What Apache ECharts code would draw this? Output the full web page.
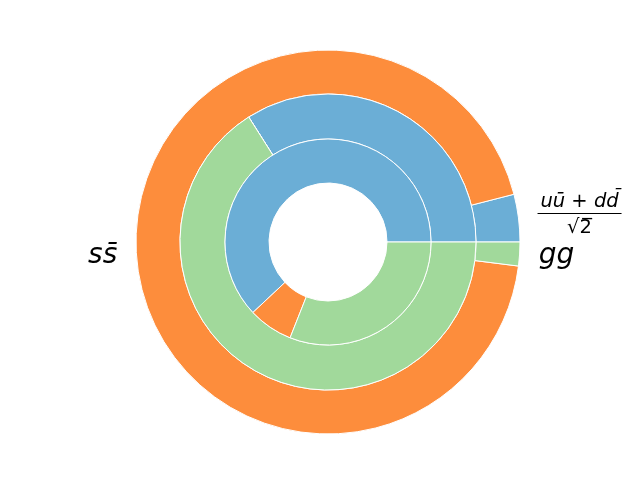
<!DOCTYPE html>
<html>
<head>
<meta charset="utf-8">
<script src="https://cdn.jsdelivr.net/npm/echarts@6/dist/echarts.min.js"></script>
<style>
    html, body { margin: 0; background: #fff; }
    #chart { width: 640px; height: 480px; }
</style>
</head>
<body>
<div id="chart"></div>
<script>
// quark content, outer / middle / inner rings (same order of colours)
const categories = ['uubar+ddbar/sqrt2', 'ssbar', 'gg']
const outerValues = [4, 94, 2]
const middleValues = [34, 0, 66]
const innerValues = [62, 7, 31]
const colors = ['#6baed6', '#fd8d3c', '#a1d99b']

const center = [328, 242]
const outerR = 192
const fracWidth = 84

// mid angle of slice i, counterclockwise from 3 o'clock (like matplotlib)
function midAngle(values, i) {
    const total = values.reduce((a, b) => a + b, 0)
    let before = 0
    for (let k = 0; k < i; k++) before += values[k]
    return (before + values[i] / 2) / total * 2 * Math.PI
}

function ringData(values, withLabel) {
    return values.map((v, i) => {
        const item = { name: categories[i], value: v }
        // the fraction label gets a fixed box width
        if (withLabel && i === 0) item.label = { width: fracWidth }
        return item
    })
}

const mathFont = 'DejaVu Sans'
const richStyles = {
    m: { fontFamily: mathFont, fontStyle: 'italic', fontSize: 28, color: '#000' },
    n: { fontFamily: mathFont, fontStyle: 'italic', fontSize: 19.5, color: '#000', align: 'center', lineHeight: 20 },
    p: { fontFamily: mathFont, fontSize: 19.5, color: '#000', align: 'center', lineHeight: 20 },
    bar: { width: fracWidth, height: 1, backgroundColor: '#000', align: 'center', lineHeight: 4 },
    d: { fontFamily: mathFont, fontSize: 19.5, color: '#000', align: 'center', lineHeight: 24 }
}

const labelTexts = [
    '{n|u\u016b}{p| + }{n|dd\u0304}\n{bar|}\n{d|\u221a2\u0305}',
    '{m|ss\u0304}',
    '{m|gg}'
]

function ring(values, radius, withLabel) {
    const s = {
        type: 'pie',
        center: center,
        radius: radius,
        startAngle: 0,
        clockwise: false,
        silent: true,
        animation: false,
        data: ringData(values, withLabel),
        itemStyle: { borderColor: '#fff', borderWidth: 1 },
        label: { show: false },
        labelLine: { show: false }
    }
    if (withLabel) {
        s.label = {
            show: true,
            position: 'outside',
            overflow: 'none',
            formatter: p => labelTexts[p.dataIndex],
            rich: richStyles
        }
        s.labelLayout = function (p) {
            const a = midAngle(values, p.dataIndex)
            const r = outerR * 1.1
            const x = center[0] + r * Math.cos(a)
            const y = center[1] - r * Math.sin(a)
            return { x: x, y: y, align: Math.cos(a) >= 0 ? 'left' : 'right', verticalAlign: 'middle' }
        }
    }
    return s
}

const chart = echarts.init(document.getElementById('chart'))
chart.setOption({
    backgroundColor: '#fff',
    color: colors,
    series: [
        ring(outerValues, [148, outerR], true),
        ring(middleValues, [103, 148], false),
        ring(innerValues, [59, 103], false)
    ]
})
</script>
</body>
</html>
